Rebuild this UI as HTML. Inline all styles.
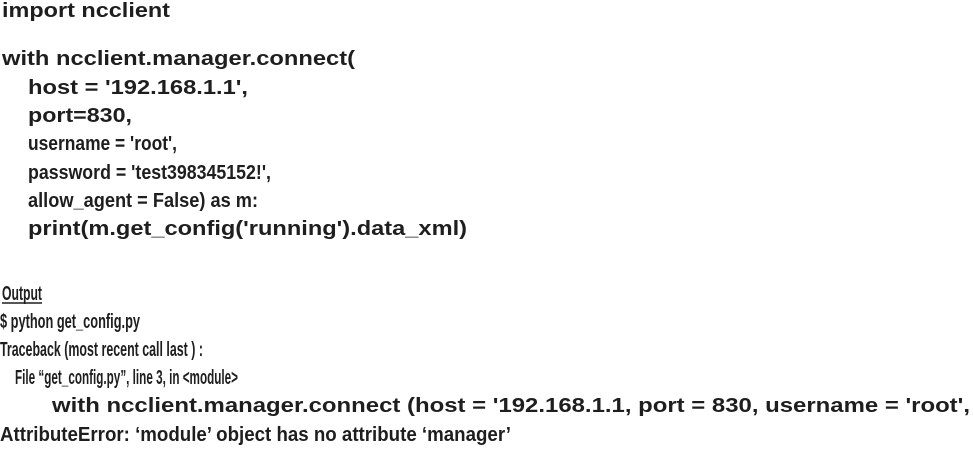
<!DOCTYPE html>
<html><head><meta charset="utf-8"><style>
html,body{margin:0;padding:0;background:#fff;width:973px;height:450px;overflow:hidden}
svg{display:block}
text{font-family:"Liberation Sans",Arial,sans-serif;font-weight:bold;font-size:20px;fill:#1e1e1e}
</style></head><body>
<svg width="973" height="450" viewBox="0 0 973 450" xmlns="http://www.w3.org/2000/svg">
<text x="2" y="17" textLength="168" lengthAdjust="spacingAndGlyphs">import ncclient</text>
<text x="2" y="65" textLength="353" lengthAdjust="spacingAndGlyphs">with ncclient.manager.connect(</text>
<text x="28" y="94" textLength="220" lengthAdjust="spacingAndGlyphs">host = '192.168.1.1',</text>
<text x="28" y="122" textLength="104" lengthAdjust="spacingAndGlyphs">port=830,</text>
<text x="28" y="150" textLength="149" lengthAdjust="spacingAndGlyphs">username = 'root',</text>
<text x="28" y="179" textLength="243" lengthAdjust="spacingAndGlyphs">password = 'test398345152!',</text>
<text x="28" y="207" textLength="230" lengthAdjust="spacingAndGlyphs">allow_agent = False) as m:</text>
<text x="28" y="235" textLength="439" lengthAdjust="spacingAndGlyphs">print(m.get_config('running').data_xml)</text>
<text x="2" y="300" textLength="40" lengthAdjust="spacingAndGlyphs">Output</text>
<line x1="2" y1="303" x2="42" y2="303" stroke="#1e1e1e" stroke-width="1.5"/>
<text x="0" y="328" textLength="140" lengthAdjust="spacingAndGlyphs">$ python get_config.py</text>
<text x="0" y="356" textLength="203" lengthAdjust="spacingAndGlyphs">Traceback (most recent call last ) :</text>
<text x="15" y="384" textLength="223" lengthAdjust="spacingAndGlyphs">File “get_config.py”, line 3, in &lt;module&gt;</text>
<text x="52" y="412" textLength="918" lengthAdjust="spacingAndGlyphs">with ncclient.manager.connect (host = '192.168.1.1, port = 830, username = 'root',</text>
<text x="0" y="441" textLength="511" lengthAdjust="spacingAndGlyphs">AttributeError: ‘module’ object has no attribute ‘manager’</text>
</svg>
</body></html>
